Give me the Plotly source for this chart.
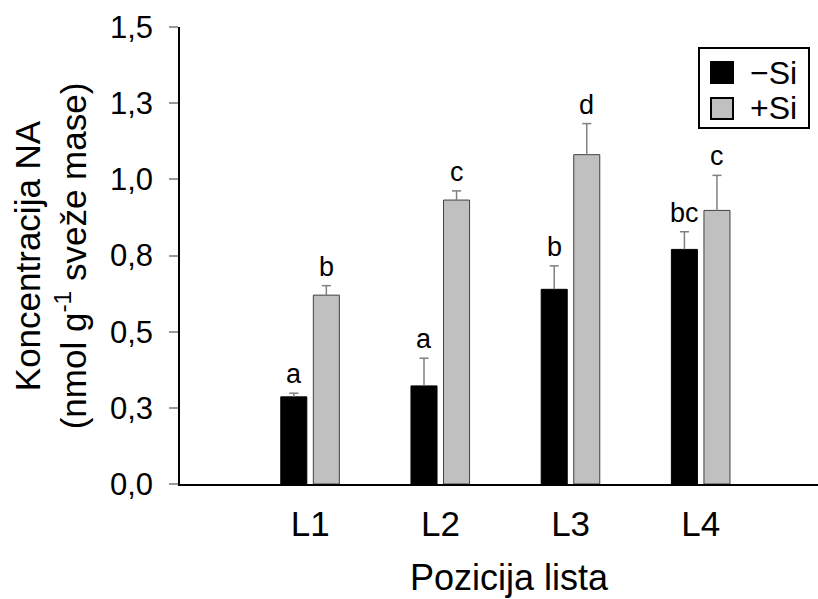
import plotly.graph_objects as go

# ---- data ----
categories = ["L1", "L2", "L3", "L4"]
series_names = ["\u2212Si", "+Si"]
minus_si = [0.286, 0.322, 0.639, 0.770]
minus_si_err = [0.012, 0.091, 0.077, 0.058]
plus_si = [0.620, 0.932, 1.081, 0.898]
plus_si_err = [0.031, 0.030, 0.102, 0.115]
minus_si_letters = ["a", "a", "b", "bc"]
plus_si_letters = ["b", "c", "d", "c"]
y_tickvals = [0, 0.25, 0.5, 0.75, 1.0, 1.25, 1.5]
y_ticktext = ["0,0", "0,3", "0,5", "0,8", "1,0", "1,3", "1,5"]

FONT = "Liberation Sans, Arial, sans-serif"
pos = list(range(len(categories)))
bar_w = 0.2
offsets = [-0.226, 0.024]
fills = ["#000000", "#c0c0c0"]
edges = ["#000000", "#404040"]
cap = 0.035

fig = go.Figure()
series = [(minus_si, minus_si_err, minus_si_letters), (plus_si, plus_si_err, plus_si_letters)]
annotations = []
for k, (vals, errs, letters) in enumerate(series):
    fig.add_trace(go.Bar(
        x=pos, y=vals, width=bar_w, offset=offsets[k], name=series_names[k],
        marker=dict(color=fills[k], line=dict(color=edges[k], width=1)),
        showlegend=False,
    ))
    ex, ey = [], []
    for p, v, e in zip(pos, vals, errs):
        c = p + offsets[k] + bar_w / 2
        ex += [c, c, None, c - cap, c + cap, None]
        ey += [v, v + e, None, v + e, v + e, None]
        annotations.append(dict(x=c, y=v + e, xref="x", yref="y", text=letters[p],
                                showarrow=False, yanchor="bottom", yshift=2,
                                font=dict(family=FONT, size=27, color="black")))
    fig.add_trace(go.Scatter(x=ex, y=ey, mode="lines", line=dict(color="#808080", width=1.5),
                             hoverinfo="skip", showlegend=False))

# axis titles as annotations
annotations.append(dict(x=-0.2025, y=0.5, xref="paper", yref="paper", textangle=-90,
                        text="Koncentracija NA<br>(nmol g<sup>-1</sup> sve\u017ee mase)",
                        showarrow=False, xanchor="center", yanchor="middle",
                        font=dict(family=FONT, size=35, color="black")))
annotations.append(dict(x=0.517, y=-0.205, xref="paper", yref="paper",
                        text="Pozicija lista", showarrow=False, xanchor="center", yanchor="middle",
                        font=dict(family=FONT, size=36, color="black")))

# manual legend (box, symbols, labels)
W, L, T, H, B = 818, 180, 27, 599, 484
pw, ph = W - L, B - T
def px(x):
    return (x - L) / pw
def py(y):
    return (B - y) / ph
shapes = [dict(type="rect", xref="paper", yref="paper", x0=px(699), x1=px(809), y0=py(128), y1=py(48),
               line=dict(color="black", width=2), fillcolor="white")]
sym_y = [(62, 83), (98, 119)]
for k in range(2):
    shapes.append(dict(type="rect", xref="paper", yref="paper", x0=px(711), x1=px(733),
                       y0=py(sym_y[k][1]), y1=py(sym_y[k][0]),
                       line=dict(color="black", width=2), fillcolor=fills[k]))
    annotations.append(dict(x=px(748), y=py((sym_y[k][0] + sym_y[k][1]) / 2), xref="paper", yref="paper",
                            text=series_names[k], showarrow=False, xanchor="left", yanchor="middle",
                            font=dict(family=FONT, size=32, color="black")))

fig.update_layout(
    width=W, height=H,
    margin=dict(l=L, r=0, t=T, b=H - B, pad=0),
    paper_bgcolor="white", plot_bgcolor="white",
    barmode="overlay",
    annotations=annotations, shapes=shapes,
    font=dict(family=FONT, color="black"),
    xaxis=dict(range=[-1, 3.9], tickvals=pos, ticktext=categories, showline=True, linecolor="black",
               linewidth=1.5, ticks="", showgrid=False, zeroline=False,
               tickfont=dict(family=FONT, size=35, color="black"), ticklabelstandoff=8),
    yaxis=dict(range=[0, 1.5], tickvals=y_tickvals, ticktext=y_ticktext, showline=True, linecolor="black",
               linewidth=1.5, ticks="outside", ticklen=9, tickwidth=1.5, tickcolor="#999999",
               showgrid=False, zeroline=False,
               tickfont=dict(family=FONT, size=31, color="black"), ticklabelstandoff=10),
)

fig.write_html("out.html")
